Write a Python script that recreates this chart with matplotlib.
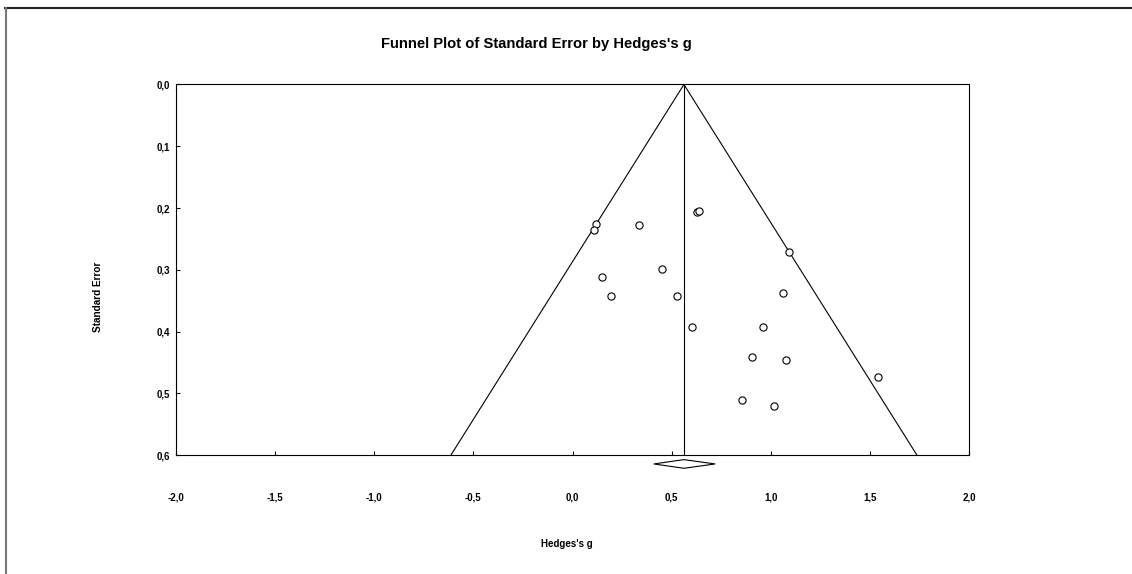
import matplotlib
matplotlib.use("Agg")
import matplotlib.pyplot as plt
from matplotlib.lines import Line2D
import numpy as np

# study effects
hedges_g = [0.120, 0.108, 0.337, 0.628, 0.640, 1.090, 0.149, 0.451, 0.194,
            0.529, 1.062, 0.603, 0.959, 0.905, 1.075, 1.539, 0.855, 1.018]
std_err = [0.225, 0.236, 0.227, 0.207, 0.204, 0.271, 0.312, 0.298, 0.343,
           0.343, 0.338, 0.393, 0.392, 0.441, 0.446, 0.473, 0.511, 0.521]

mean_g = 0.562
ci_low = 0.41
ci_high = 0.72

x_ticks = [-2.0, -1.5, -1.0, -0.5, 0.0, 0.5, 1.0, 1.5, 2.0]
x_ticklabels = ["-2,0", "-1,5", "-1,0", "-0,5", "0,0", "0,5", "1,0", "1,5", "2,0"]
y_ticks = [0.0, 0.1, 0.2, 0.3, 0.4, 0.5, 0.6]
y_ticklabels = ["0,0", "0,1", "0,2", "0,3", "0,4", "0,5", "0,6"]

plt.rcParams['font.family'] = ['Liberation Sans Narrow', 'Liberation Sans', 'DejaVu Sans']
plt.rcParams['font.weight'] = 'bold'

fig = plt.figure(figsize=(11.32, 5.74), dpi=100)
ax = fig.add_axes([0.1555, 0.2068, 0.7005, 0.646])

se_max = 0.6
ax.plot([mean_g - 1.96 * se_max, mean_g, mean_g + 1.96 * se_max],
        [se_max, 0, se_max], color="black", lw=0.8)
ax.plot([mean_g, mean_g], [0, se_max], color="black", lw=0.8)

ax.plot(hedges_g, std_err, "o", mfc="white", mec="black", ms=5.2, mew=0.8)

# summary diamond below the axis
dh = 0.007
dy = 0.614
ax.fill([ci_low, mean_g, ci_high, mean_g], [dy, dy - dh, dy, dy + dh],
        facecolor="white", edgecolor="black", lw=0.8, clip_on=False, zorder=5)

ax.set_xlim(-2, 2)
ax.set_ylim(0.6, 0.0)
ax.set_xticks(x_ticks)
ax.set_xticklabels(x_ticklabels, fontsize=7, fontweight="bold")
ax.set_yticks(y_ticks)
ax.set_yticklabels(y_ticklabels, fontsize=7, fontweight="bold")
ax.tick_params(axis="x", direction="in", length=3, width=0.8, pad=27)
ax.tick_params(axis="y", direction="in", length=3, width=0.8, pad=4)
for s in ax.spines.values():
    s.set_linewidth(0.8)

fig.text(536 / 1132, 1 - 44 / 574, "Funnel Plot of Standard Error by Hedges's g",
         ha="center", va="center", fontsize=10.6, fontweight="bold")
fig.text(567 / 1132, 1 - 544 / 574, "Hedges's g", ha="center", va="center",
         fontsize=7, fontweight="bold")
fig.text(98 / 1132, 1 - 297 / 574, "Standard Error", ha="center", va="center",
         rotation=90, fontsize=7.2, fontweight="bold")

# outer frame (top and left edges only)
fig.add_artist(Line2D([5 / 1132, 1], [1 - 7.5 / 574, 1 - 7.5 / 574],
                      color="#222222", lw=1.5))
fig.add_artist(Line2D([5.5 / 1132, 5.5 / 1132], [0, 1 - 7.5 / 574],
                      color="#777777", lw=1.5))

fig.savefig("out.png", dpi=100)
